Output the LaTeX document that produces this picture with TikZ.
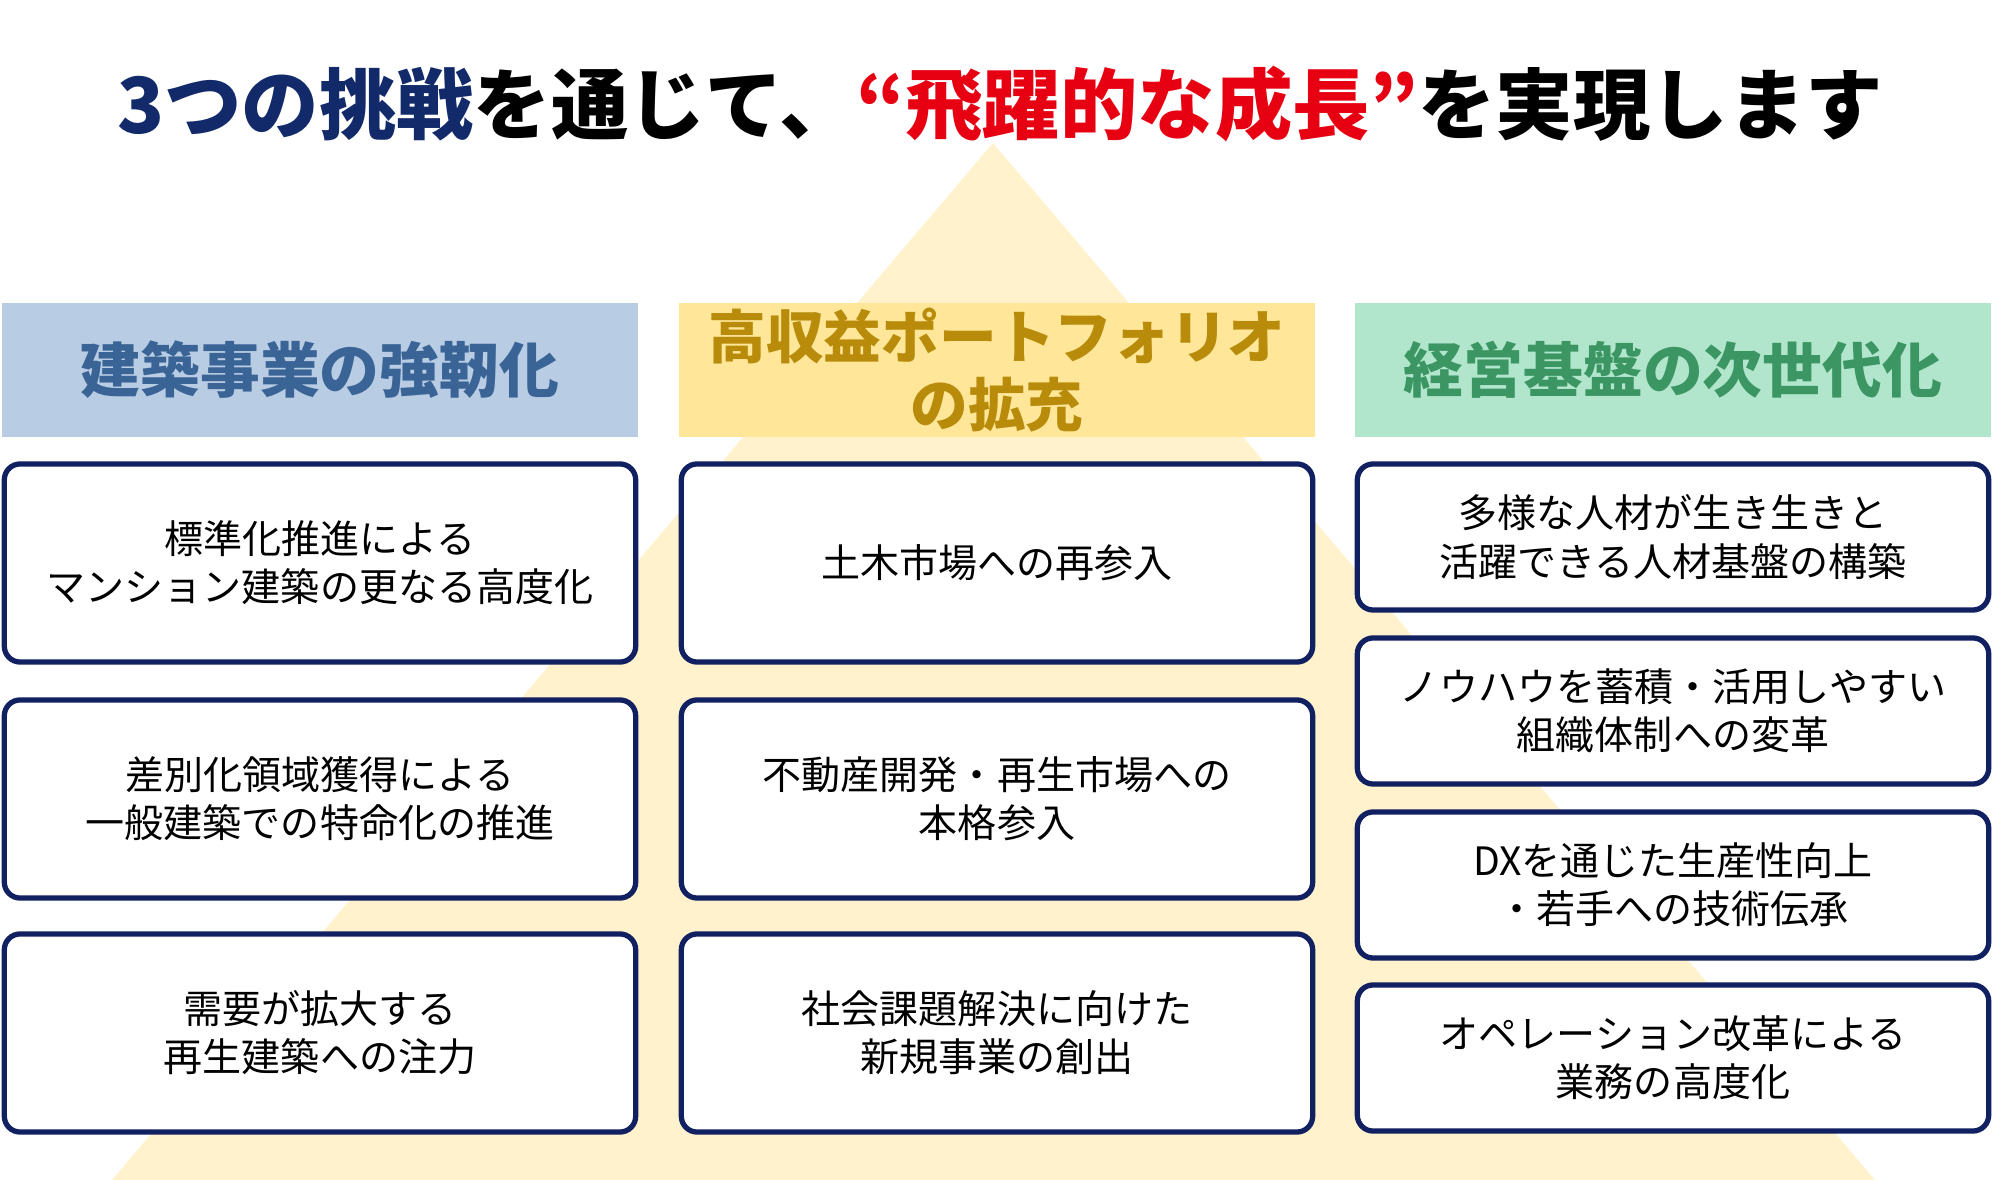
\documentclass[tikz,border=0pt]{standalone}
\usepackage{fontspec}
\setmainfont{Noto Sans CJK JP}
\usepackage{tikz}
\usetikzlibrary{positioning}
\definecolor{navy}{RGB}{16,32,96}
\definecolor{ttlblue}{RGB}{18,42,105}
\definecolor{ttlred}{RGB}{230,0,18}
\definecolor{tri}{RGB}{255,242,204}
\definecolor{hdrA}{RGB}{184,204,228}
\definecolor{hdrAtext}{RGB}{58,100,150}
\definecolor{hdrB}{RGB}{255,230,153}
\definecolor{hdrBtext}{RGB}{184,140,10}
\definecolor{hdrC}{RGB}{178,230,204}
\definecolor{hdrCtext}{RGB}{60,150,100}
\tikzset{
	headnode/.style={rectangle, inner sep=0pt, minimum width=6.36cm, minimum height=1.34cm, align=center, font=\fontsize{17}{19.3}\selectfont\bfseries},
	itemnode/.style={rectangle, rounded corners=4.5pt, draw=navy, fill=white, line width=1.5pt, minimum width=6.31cm, align=center, font=\fontsize{11.1}{13.7}\selectfont},
	tallnode/.style={itemnode, minimum height=1.98cm},
	shortnode/.style={itemnode, minimum height=1.46cm}
}

\begin{document}
\begin{tikzpicture}[x=0.01cm, y=-0.01cm]
		\useasboundingbox (0,0) rectangle (2000,1180);
		%pyramid
		\fill[tri] (993,143) -- (112,1180) -- (1875,1180) -- cycle;
		
		%title
		\node[font=\fontsize{22}{26}\selectfont\bfseries] at (1000,104) (title) {\textcolor{ttlblue}{3つの挑戦}を通じて、\textcolor{ttlred}{“飛躍的な成長”}を実現します};
		
		%headers
		\node[headnode, fill=hdrA, text=hdrAtext] at (320,370) (hA) {建築事業の強靭化};
		\node[headnode, fill=hdrB, text=hdrBtext, font=\fontsize{16.4}{19.3}\selectfont\bfseries] at (997,370) (hB) {高収益ポートフォリオ\\の拡充};
		\node[headnode, fill=hdrC, text=hdrCtext] at (1673,370) (hC) {経営基盤の次世代化};
		
		%left column
		\node[tallnode] at (320,563) (a1) {標準化推進による\\マンション建築の更なる高度化};
		\node[tallnode] at (320,799) (a2) {差別化領域獲得による\\一般建築での特命化の推進};
		\node[tallnode] at (320,1033) (a3) {需要が拡大する\\再生建築への注力};
		
		%middle column
		\node[tallnode] at (997,563) (b1) {土木市場への再参入};
		\node[tallnode] at (997,799) (b2) {不動産開発・再生市場への\\本格参入};
		\node[tallnode] at (997,1033) (b3) {社会課題解決に向けた\\新規事業の創出};
		
		%right column
		\node[shortnode] at (1673,537) (c1) {多様な人材が生き生きと\\活躍できる人材基盤の構築};
		\node[shortnode] at (1673,711) (c2) {ノウハウを蓄積・活用しやすい\\組織体制への変革};
		\node[shortnode] at (1673,885) (c3) {DXを通じた生産性向上\\・若手への技術伝承};
		\node[shortnode] at (1673,1058) (c4) {オペレーション改革による\\業務の高度化};
		
	\end{tikzpicture}
\end{document}
